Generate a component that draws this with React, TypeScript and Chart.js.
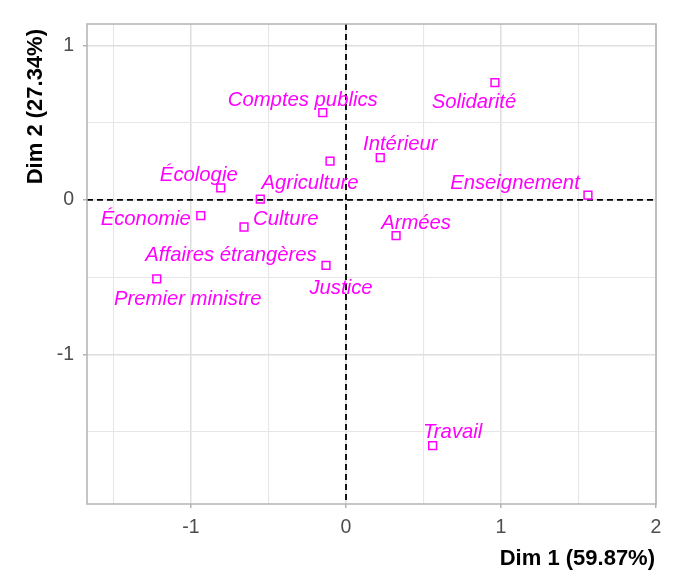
import React, { useEffect, useRef } from 'react';
import { Chart, registerables } from 'chart.js';

Chart.register(...registerables);

// ---- data ----
const ministries = [
  'Comptes publics',
  'Solidarité',
  'Intérieur',
  'Agriculture',
  'Écologie',
  'Culture',
  'Économie',
  'Affaires étrangères',
  'Enseignement',
  'Armées',
  'Justice',
  'Premier ministre',
  'Travail',
];
const dim1 = [-0.15, 0.961, 0.221, -0.103, -0.808, -0.553, -0.937, -0.658, 1.561, 0.323, -0.129, -1.221, 0.559];
const dim2 = [0.565, 0.759, 0.274, 0.252, 0.078, 0.005, -0.102, -0.175, 0.032, -0.231, -0.423, -0.511, -1.59];
// label offsets from the point (pixels, text centre)
const labelDx = [-20, -21, 20, -20, -22, 25.5, -55, -13, -73, 20, 15, 31, 20];
const labelDy = [-14, 18, -15, 20, -15, 18, 1.5, 26, -14, -14, 21, 18, -15];

const xTitle = 'Dim 1 (59.87%)';
const yTitle = 'Dim 2 (27.34%)';
const xLimits = [-1.671, 2.0];
const yLimits = [-1.968, 1.139];
const gridStep = 0.5;

const MAGENTA = '#FF00FF';
const FONT = "'Liberation Sans', Arial, sans-serif";

const isMajor = (v: number) => Math.abs(v - Math.round(v)) < 1e-9;

const decorPlugin = {
  id: 'decor',
  beforeDatasetsDraw(chart: any) {
    const { ctx, chartArea: a, scales } = chart;
    const x0 = scales.x.getPixelForValue(0);
    const y0 = scales.y.getPixelForValue(0);
    ctx.save();
    ctx.strokeStyle = '#000000';
    ctx.lineWidth = 1.8;
    ctx.setLineDash([6, 4]);
    ctx.beginPath();
    ctx.moveTo(a.left, y0);
    ctx.lineTo(a.right, y0);
    ctx.moveTo(x0, a.top);
    ctx.lineTo(x0, a.bottom);
    ctx.stroke();
    ctx.restore();
  },
  afterDatasetsDraw(chart: any) {
    const { ctx, chartArea: a } = chart;
    ctx.save();
    // panel border
    ctx.strokeStyle = '#B3B3B3';
    ctx.lineWidth = 1.5;
    ctx.strokeRect(a.left, a.top, a.right - a.left, a.bottom - a.top);
    // point labels
    const meta = chart.getDatasetMeta(0);
    ctx.fillStyle = MAGENTA;
    ctx.font = `italic 20.3px ${FONT}`;
    ctx.textAlign = 'center';
    ctx.textBaseline = 'middle';
    meta.data.forEach((el: any, i: number) => {
      ctx.fillText(ministries[i], el.x + labelDx[i], el.y + labelDy[i] + 2);
    });
    // axis titles
    ctx.fillStyle = '#000000';
    ctx.font = `bold 22px ${FONT}`;
    ctx.textAlign = 'right';
    ctx.textBaseline = 'middle';
    ctx.fillText(xTitle, a.right - 1, 559);
    ctx.translate(36, a.top + 5);
    ctx.rotate(-Math.PI / 2);
    ctx.fillText(yTitle, 0, 0);
    ctx.restore();
  },
};

function gridOpts() {
  return {
    color: (c: any) => (c.tick && isMajor(c.tick.value) ? '#DEDEDE' : '#E6E6E6'),
    lineWidth: (c: any) => (c.tick && isMajor(c.tick.value) ? 1.5 : 1.1),
    tickColor: (c: any) => (c.tick && isMajor(c.tick.value) ? '#B3B3B3' : 'rgba(0,0,0,0)'),
    tickLength: 4,
    drawTicks: true,
  };
}

export default function App() {
  const ref = useRef<HTMLCanvasElement>(null);
  useEffect(() => {
    document.body.style.margin = '0';
    const chart = new Chart(ref.current as HTMLCanvasElement, {
      type: 'scatter',
      data: {
        datasets: [
          {
            data: dim1.map((x, i) => ({ x, y: dim2[i] })),
            pointStyle: 'rect',
            radius: 5.5,
            hoverRadius: 5.5,
            borderWidth: 1.5,
            borderColor: MAGENTA,
            backgroundColor: 'rgba(0,0,0,0)',
          },
        ],
      },
      options: {
        animation: false,
        responsive: true,
        maintainAspectRatio: false,
        layout: { padding: { top: 24, right: 21, left: 0, bottom: 0 } },
        plugins: { legend: { display: false }, tooltip: { enabled: false } },
        scales: {
          x: {
            type: 'linear',
            min: xLimits[0],
            max: xLimits[1],
            afterFit: (s: any) => {
              s.height = 76;
            },
            border: { display: false },
            grid: gridOpts(),
            ticks: {
              stepSize: gridStep,
              includeBounds: false,
              autoSkip: false,
              maxRotation: 0,
              padding: 8,
              color: '#4D4D4D',
              font: { family: FONT, size: 19.5 },
              callback: (v: any) => (isMajor(Number(v)) ? String(Math.round(Number(v))) : ''),
            },
          },
          y: {
            type: 'linear',
            min: yLimits[0],
            max: yLimits[1],
            afterFit: (s: any) => {
              s.width = 87;
            },
            border: { display: false },
            grid: gridOpts(),
            ticks: {
              stepSize: gridStep,
              includeBounds: false,
              autoSkip: false,
              padding: 9,
              color: '#4D4D4D',
              font: { family: FONT, size: 19.5 },
              callback: (v: any) => (isMajor(Number(v)) ? String(Math.round(Number(v))) : ''),
            },
          },
        },
      },
      plugins: [decorPlugin],
    });
    return () => chart.destroy();
  }, []);
  return (
    <div style={{ width: 677, height: 580, position: 'relative', background: '#FFFFFF' }}>
      <canvas ref={ref} />
    </div>
  );
}
